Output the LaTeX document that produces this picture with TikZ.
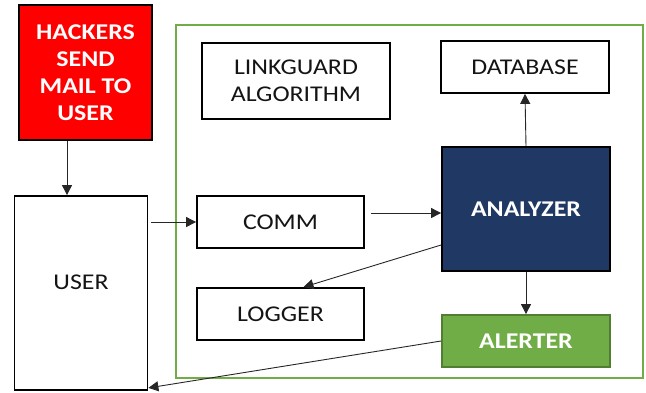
\documentclass[tikz,border=0pt]{standalone}
\usepackage{fontspec}
\setmainfont[FakeStretch=1.15]{Carlito}
\usetikzlibrary{arrows.meta}
\definecolor{hackred}{HTML}{FF0000}
\definecolor{navy}{HTML}{203864}
\definecolor{leaf}{HTML}{70AD47}
\definecolor{leafdark}{HTML}{507E32}
\definecolor{ink}{HTML}{141414}
\newcommand{\boxfont}{\fontsize{22.5}{27}\selectfont}
\tikzset{
  box/.style={draw=black, line width=1.8pt, fill=white, rectangle, align=center,
    text=ink, font=\boxfont, inner sep=0pt},
  boldtext/.style={text=white, font=\bfseries\boxfont},
  arr/.style={draw=black!85, line width=0.9pt, -{Triangle[length=10pt,width=10pt]}}
}
\begin{document}
\begin{tikzpicture}[x=1pt,y=-1pt]
  \useasboundingbox (0,0) rectangle (646,392);
  % system boundary
  \draw[leaf, line width=1.8pt] (176,25) rectangle (643,378);
  % nodes
  \node[box, boldtext, fill=hackred,
        minimum width=133pt, minimum height=135pt] (hk) at (85.5,72.5)
        {HACKERS\\SEND\\MAIL TO\\USER};
  \node[box, minimum width=133pt, minimum height=194pt] (us) at (81,293) {};
  \node[text=ink, font=\boxfont] (ut) at (81,282) {USER};
  \node[box, minimum width=188pt, minimum height=76pt] (lk) at (296,81)
        {LINKGUARD\\ALGORITHM};
  \node[box, minimum width=168pt, minimum height=52pt] (db) at (525,67) {DATABASE};
  \node[box, boldtext, fill=navy,
        minimum width=168pt, minimum height=124pt] (an) at (526,209) {ANALYZER};
  \node[box, minimum width=167pt, minimum height=52pt] (cm) at (280.5,222) {COMM};
  \node[box, minimum width=167pt, minimum height=52pt] (lg) at (280.5,314) {LOGGER};
  \node[box, boldtext, draw=leafdark, fill=leaf,
        minimum width=168pt, minimum height=52pt] (al) at (526,341) {ALERTER};
  % connectors
  \draw[arr] ([xshift=-18.5pt]hk.south) -- ([xshift=-14pt]us.north);
  \draw[arr] ([xshift=3pt]us.east |- cm.west) -- (cm.west);
  \draw[arr] ([xshift=6pt,yshift=9pt]cm.east) -- ([yshift=-4pt]an.west);
  \draw[arr] (an.north) -- (db.south);
  \draw[arr] (an.south) -- (al.north);
  \draw[arr] ([yshift=-36pt]an.west) -- ([xshift=23pt]lg.north);
  \draw[arr] (al.west) -- ([yshift=3pt]us.south east);
\end{tikzpicture}
\end{document}
